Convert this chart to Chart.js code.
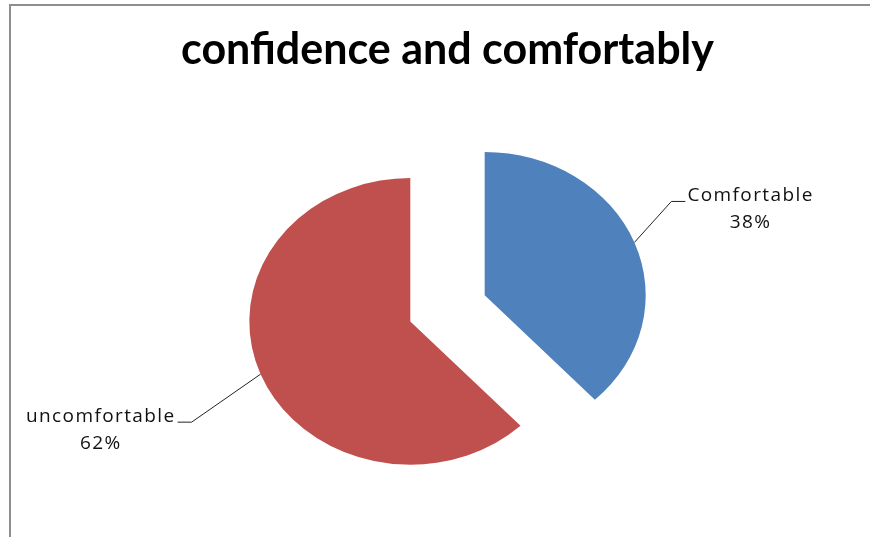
<!DOCTYPE html>
<html>
<head>
<meta charset="utf-8">
<script src="https://cdn.jsdelivr.net/npm/chart.js@4.4.1/dist/chart.umd.min.js"></script>
<style>
  html, body { margin: 0; padding: 0; background: #fff; }
  #wrap { position: relative; width: 870px; height: 537px; }
  #frame { position: absolute; left: 9px; top: 4px; right: 0; bottom: 0;
           border-top: 2px solid #8e8e8e; border-left: 2px solid #8e8e8e; pointer-events: none; }
</style>
</head>
<body>
<div id="wrap">
  <canvas id="chart" width="870" height="537"></canvas>
  <div id="frame"></div>
</div>
<script>
const titleText = 'confidence and comfortably';
const categories = ['Comfortable', 'uncomfortable'];
const values = [38, 62];
const sliceColors = ['#4F81BD', '#C0504D'];

// look of the pie: squashed a bit vertically, both slices pulled out
const Y_SCALE = 0.89;
const EXPLODE = 40;
// leader line elbows relative to the slice edge, and which side the text goes
const leaders = [
  { dx: 37, dy: -41, run: 14, side: 'right' },
  { dx: -69, dy: 48, run: 14, side: 'left' }
];

const labelFont = '19px "Open Sans"';

const ellipsePie = {
  id: 'ellipsePie',
  beforeDatasetDraw(chart, args) {
    const ctx = chart.ctx;
    args.meta.data.forEach(arc => {
      const mid = (arc.startAngle + arc.endAngle) / 2;
      ctx.save();
      ctx.translate(arc.x + Math.cos(mid) * EXPLODE, arc.y + Math.sin(mid) * EXPLODE * Y_SCALE);
      ctx.scale(1, Y_SCALE);
      ctx.translate(-arc.x, -arc.y);
      arc.draw(ctx);
      ctx.restore();
    });
    return false;
  },
  afterDatasetsDraw(chart) {
    const ctx = chart.ctx;
    const meta = chart.getDatasetMeta(0);
    const total = values.reduce((a, b) => a + b, 0);
    meta.data.forEach((arc, i) => {
      const mid = (arc.startAngle + arc.endAngle) / 2;
      const r = arc.outerRadius + EXPLODE;
      const x0 = arc.x + Math.cos(mid) * r;
      const y0 = arc.y + Math.sin(mid) * r * Y_SCALE;
      const L = leaders[i];
      const x1 = x0 + L.dx, y1 = y0 + L.dy;
      const dir = L.side === 'right' ? 1 : -1;
      const x2 = x1 + dir * L.run;

      ctx.save();
      ctx.strokeStyle = '#222';
      ctx.lineWidth = 1;
      ctx.beginPath();
      ctx.moveTo(x0, y0);
      ctx.lineTo(x1, y1);
      ctx.lineTo(x2, y1);
      ctx.stroke();

      ctx.font = labelFont;
      ctx.letterSpacing = '1.4px';
      ctx.fillStyle = '#111';
      ctx.textBaseline = 'middle';
      ctx.textAlign = 'center';
      const name = categories[i];
      const pct = Math.round(values[i] / total * 100) + '%';
      const w = ctx.measureText(name).width;
      const cx = dir > 0 ? x2 + 2 + w / 2 : x2 - 2 - w / 2;
      ctx.fillText(name, cx, y1 - 6);
      ctx.fillText(pct, cx, y1 + 21);
      ctx.restore();
    });
  }
};

new Chart(document.getElementById('chart'), {
  type: 'pie',
  data: {
    labels: categories,
    datasets: [{
      data: values,
      backgroundColor: sliceColors,
      borderWidth: 0
    }]
  },
  options: {
    responsive: false,
    animation: false,
    radius: 161,
    layout: { padding: { left: 25, right: 0, top: 0, bottom: 0 } },
    plugins: {
      legend: { display: false },
      tooltip: { enabled: false },
      title: {
        display: true,
        text: titleText,
        color: '#000',
        font: { family: 'Lato', size: 43, weight: 'bold', lineHeight: 1.2 },
        padding: { top: 24, bottom: 4 }
      }
    }
  },
  plugins: [ellipsePie]
});
</script>
</body>
</html>
